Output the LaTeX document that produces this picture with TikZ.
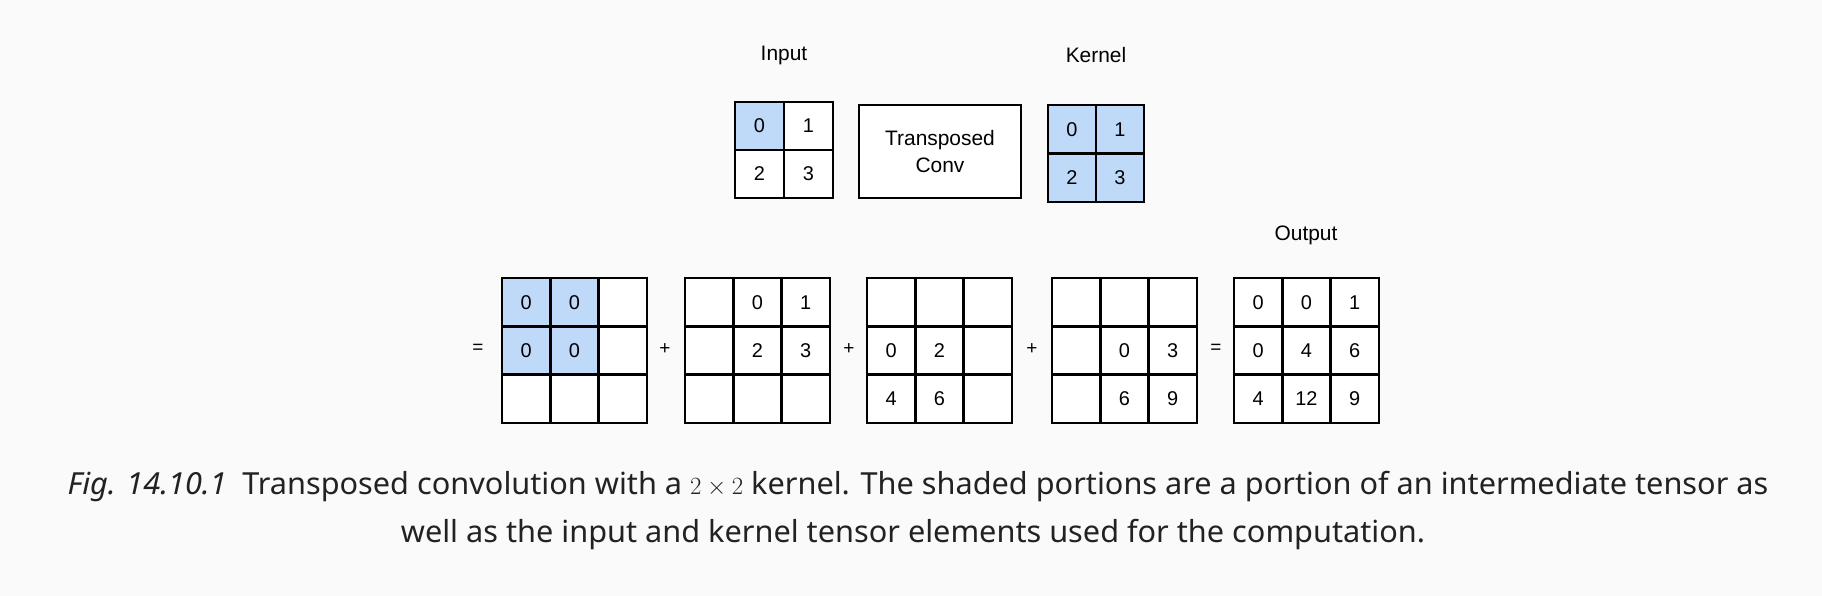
\documentclass[tikz,border=0pt]{standalone}
\usepackage{fontspec}
\setmainfont{Liberation Sans}
\newfontfamily\capfont[FakeStretch=1.01]{Noto Sans}
\definecolor{shade}{RGB}{191,218,249}
\definecolor{bgc}{RGB}{250,250,250}
\definecolor{captxt}{RGB}{34,34,34}
\tikzset{
  cell/.style={draw=black, line width=2.4bp, minimum width=48.3bp, minimum height=48.3bp, inner sep=0pt, font=\fontsize{20}{24}\selectfont},
  cellS/.style={fill=shade},
  cellW/.style={fill=white},
  lbl/.style={font=\fontsize{21}{25}\selectfont, inner sep=0pt},
  sym/.style={font=\fontsize{19}{23}\selectfont, inner sep=0pt},
  capt/.style={font=\capfont\fontsize{30.5}{36}\selectfont, text=captxt, inner sep=0pt, anchor=base}
}
\newcommand\gridnine[4]{%
  \foreach \v/\s [count=\k from 0] in {#4} {%
    \pgfmathtruncatemacro\rr{div(\k,3)}%
    \pgfmathtruncatemacro\cc{mod(\k,3)}%
    \node[cell,\s] (#1-\rr-\cc) at ({#2+(\cc+0.5)*48.3},{#3+(\rr+0.5)*48.3}) {\v};
  }%
}
\newcommand\gridfour[6]{% name, x, y, w, h, list
  \foreach \v/\s [count=\k from 0] in {#6} {%
    \pgfmathtruncatemacro\rr{div(\k,2)}%
    \pgfmathtruncatemacro\cc{mod(\k,2)}%
    \node[cell,\s,minimum width=#4bp,minimum height=#5bp] (#1-\rr-\cc) at ({#2+(\cc+0.5)*#4},{#3+(\rr+0.5)*#5}) {\v};
  }%
}
\begin{document}
\begin{tikzpicture}[x=1bp,y=-1bp]
\fill[bgc] (0,0) rectangle (1822,596);
\useasboundingbox (0,0) rectangle (1822,596);

% top row
\node[lbl] (inlbl) at (784,55) {Input};
\node[lbl] (kerlbl) at (1096,55) {Kernel};
\gridfour{in}{735}{102}{49}{48}{0/cellS,1/cellW,2/cellW,3/cellW}
\node[draw=black, line width=2.4bp, fill=white, minimum width=162bp, minimum height=93bp, align=center, inner sep=0pt,
      font=\fontsize{21}{28}\selectfont] (tc) at (940,151.5) {Transposed\\Conv};
\gridfour{ker}{1048}{105}{48}{48.5}{0/cellS,1/cellS,2/cellS,3/cellS}

% bottom row
\node[lbl] (outlbl) at (1306,235) {Output};
\node[sym] (eq1) at (478,349) {=};
\gridnine{ga}{502}{278}{0/cellS,0/cellS,/cellW,0/cellS,0/cellS,/cellW,/cellW,/cellW,/cellW}
\node[sym] (pl1) at (665,349) {+};
\gridnine{gb}{685}{278}{/cellW,0/cellW,1/cellW,/cellW,2/cellW,3/cellW,/cellW,/cellW,/cellW}
\node[sym] (pl2) at (849,349) {+};
\gridnine{gc}{867}{278}{/cellW,/cellW,/cellW,0/cellW,2/cellW,/cellW,4/cellW,6/cellW,/cellW}
\node[sym] (pl3) at (1032,349) {+};
\gridnine{gd}{1052}{278}{/cellW,/cellW,/cellW,/cellW,0/cellW,3/cellW,/cellW,6/cellW,9/cellW}
\node[sym] (eq2) at (1216,349) {=};
\gridnine{go}{1234}{278}{0/cellW,0/cellW,1/cellW,0/cellW,4/cellW,6/cellW,4/cellW,12/cellW,9/cellW}

% caption
\node[capt] (cap1) at (918,494) {\textit{Fig. 14.10.1}\hspace{0.25em} Transposed convolution with a $2\times 2$ kernel. The shaded portions are a portion of an intermediate tensor as};
\node[capt] (cap2) at (913,542) {well as the input and kernel tensor elements used for the computation.};
\end{tikzpicture}
\end{document}
